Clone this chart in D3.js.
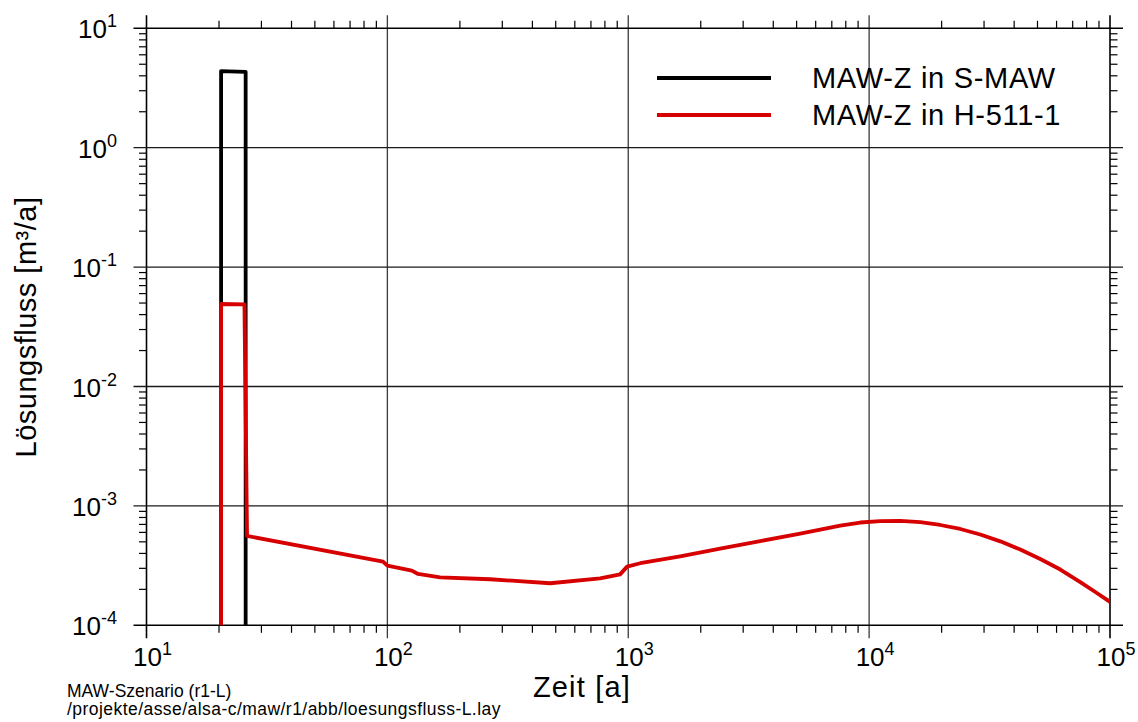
<!DOCTYPE html>
<html>
<head>
<meta charset="utf-8">
<script src="https://cdn.jsdelivr.net/npm/d3@7"></script>
<style>
  html, body { margin: 0; padding: 0; background: #fff; }
  svg { display: block; font-family: "Liberation Sans", Arial, sans-serif; }
</style>
</head>
<body>
<svg id="chart" width="1138" height="722"></svg>
<script>
// ---- data ----
const seriesNames = ["MAW-Z in S-MAW", "MAW-Z in H-511-1"];
const seriesColors = ["#000000", "#d60000"];

const blackT = [20.4, 20.4, 22.0, 25.8, 25.8];
const blackV = [1e-6, 4.38, 4.36, 4.32, 1e-6];

const redT = [20.4, 20.4, 25.5, 26.15, 95.96, 100, 126.3, 134.1, 165.5, 267, 474, 764, 925, 989,
  1121, 1643, 2407, 3530, 5175, 6265, 7586, 9183, 11121, 13463, 16302, 19743, 23895, 28933,
  35034, 42416, 51357, 62190, 75300, 86900, 100000];
const redV = [1e-6, 0.0491, 0.0488, 5.6e-4, 3.41e-4, 3.16e-4, 2.87e-4, 2.69e-4, 2.52e-4, 2.43e-4,
  2.25e-4, 2.47e-4, 2.67e-4, 3.10e-4, 3.31e-4, 3.78e-4, 4.39e-4, 5.07e-4, 5.87e-4, 6.34e-4,
  6.85e-4, 7.26e-4, 7.47e-4, 7.49e-4, 7.30e-4, 6.92e-4, 6.41e-4, 5.76e-4,
  5.05e-4, 4.31e-4, 3.59e-4, 2.93e-4, 2.30e-4, 1.90e-4, 1.57e-4];

const xTickExp = [1, 2, 3, 4, 5];
const yTickExp = [1, 0, -1, -2, -3, -4];
const xTitle = "Zeit [a]";
const yTitle = "Lösungsfluss [m³/a]";
const footer = ["MAW-Szenario (r1-L)", "/projekte/asse/alsa-c/maw/r1/abb/loesungsfluss-L.lay"];

// ---- layout ----
const svg = d3.select("#chart");
const L = 146.5, R = 1110, T = 28.3, B = 625.3;
const x = d3.scaleLog().domain([10, 1e5]).range([L, R]);
const y = d3.scaleLog().domain([1e-4, 10]).range([B, T]);
const ext = 13, minor = 7.5;

const minorX = [], minorY = [];
for (let e = 1; e < 5; e++) for (let m = 2; m <= 9; m++) minorX.push(m * Math.pow(10, e));
for (let e = -4; e < 1; e++) for (let m = 2; m <= 9; m++) minorY.push(m * Math.pow(10, e));

const g = svg.append("g");
g.selectAll(".gx").data(xTickExp).join("line")
  .attr("x1", d => x(Math.pow(10, d))).attr("x2", d => x(Math.pow(10, d)))
  .attr("y1", T - ext).attr("y2", B + ext)
  .attr("stroke", d => (d === 1 || d === 5) ? "#000" : "#3a3a3a")
  .attr("stroke-width", d => (d === 1 || d === 5) ? 1.6 : 1.3);
g.selectAll(".gy").data(yTickExp).join("line")
  .attr("y1", d => y(Math.pow(10, d))).attr("y2", d => y(Math.pow(10, d)))
  .attr("x1", L - ext).attr("x2", R + ext)
  .attr("stroke", d => (d === 1 || d === -4) ? "#000" : "#1a1a1a")
  .attr("stroke-width", d => (d === 1 || d === -4) ? 1.6 : 1.3);

g.selectAll(".mxb").data(minorX).join("line")
  .attr("x1", d => x(d)).attr("x2", d => x(d)).attr("y1", B).attr("y2", B + minor)
  .attr("stroke", "#000").attr("stroke-width", 1.2);
g.selectAll(".mxt").data(minorX).join("line")
  .attr("x1", d => x(d)).attr("x2", d => x(d)).attr("y1", T).attr("y2", T - minor)
  .attr("stroke", "#000").attr("stroke-width", 1.2);
g.selectAll(".myl").data(minorY).join("line")
  .attr("y1", d => y(d)).attr("y2", d => y(d)).attr("x1", L).attr("x2", L - minor)
  .attr("stroke", "#000").attr("stroke-width", 1.2);
g.selectAll(".myr").data(minorY).join("line")
  .attr("y1", d => y(d)).attr("y2", d => y(d)).attr("x1", R).attr("x2", R + minor)
  .attr("stroke", "#000").attr("stroke-width", 1.2);

const xl = g.selectAll(".xl").data(xTickExp).join("text")
  .attr("x", d => x(Math.pow(10, d)) + 6).attr("y", 666)
  .attr("text-anchor", "middle").attr("font-size", 26).attr("fill", "#000");
xl.append("tspan").text("10");
xl.append("tspan").attr("font-size", 18).attr("dy", -11).text(d => d);

const yl = g.selectAll(".yl").data(yTickExp).join("text")
  .attr("x", 117).attr("y", d => y(Math.pow(10, d)) + 10)
  .attr("text-anchor", "end").attr("font-size", 26).attr("fill", "#000");
yl.append("tspan").text("10");
yl.append("tspan").attr("font-size", 18).attr("dy", -11).text(d => d);

svg.append("text").attr("x", 582).attr("y", 697).attr("text-anchor", "middle")
  .attr("font-size", 29).attr("letter-spacing", 1.2).text(xTitle);
svg.append("text").attr("transform", "translate(36,327) rotate(-90)").attr("text-anchor", "middle")
  .attr("font-size", 29).attr("letter-spacing", 0.5).text(yTitle);

svg.append("text").attr("x", 67).attr("y", 697).attr("font-size", 17.5).text(footer[0]);
svg.append("text").attr("x", 67).attr("y", 715).attr("font-size", 17.5)
  .attr("letter-spacing", 0.45).text(footer[1]);

svg.append("defs").append("clipPath").attr("id", "clip")
  .append("rect").attr("x", L).attr("y", T - 5).attr("width", R - L).attr("height", B - T + 5);

const line = d3.line().x(d => x(d[0])).y(d => y(d[1]));
const blackData = blackT.map((t, i) => [t, Math.max(blackV[i], 1e-5)]);
const redData = redT.map((t, i) => [t, Math.max(redV[i], 1e-5)]);

const lw = 3.8;
svg.append("path").attr("clip-path", "url(#clip)").datum(blackData).attr("d", line)
  .attr("fill", "none").attr("stroke", seriesColors[0]).attr("stroke-width", lw)
  .attr("stroke-linejoin", "round");
svg.append("path").attr("clip-path", "url(#clip)").datum(redData).attr("d", line)
  .attr("fill", "none").attr("stroke", seriesColors[1]).attr("stroke-width", lw)
  .attr("stroke-linejoin", "round");

const legY = [78, 115];
seriesNames.forEach((n, i) => {
  svg.append("line").attr("x1", 657).attr("x2", 771).attr("y1", legY[i]).attr("y2", legY[i])
    .attr("stroke", seriesColors[i]).attr("stroke-width", lw);
  svg.append("text").attr("x", 812).attr("y", legY[i] + 10).attr("font-size", 29)
    .attr("letter-spacing", 0.7).text(n);
});
</script>
</body>
</html>
